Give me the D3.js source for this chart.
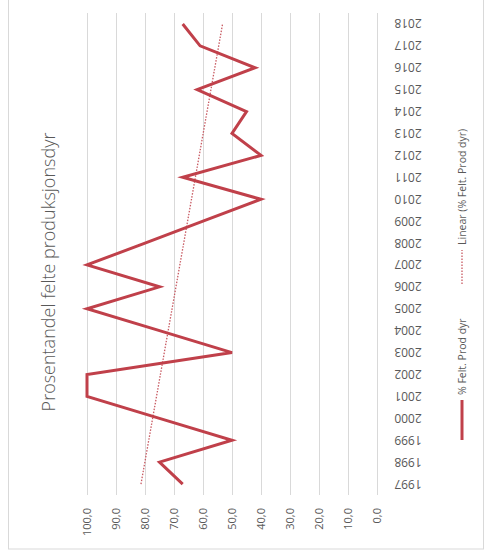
<!DOCTYPE html>
<html>
<head>
<meta charset="utf-8">
<script src="https://cdn.jsdelivr.net/npm/d3@7"></script>
<style>
  html, body { margin: 0; padding: 0; background: #fff; }
  svg { display: block; }
</style>
</head>
<body>
<svg id="chart" width="494" height="558"></svg>
<script>
const years = ["1997","1998","1999","2000","2001","2002","2003","2004","2005","2006","2007",
               "2008","2009","2010","2011","2012","2013","2014","2015","2016","2017","2018"];
const values = [67, 75, 50, 75, 100, 100, 50, 75, 100, 75, 100,
                80, 60, 40, 67, 40, 50, 45, 62, 42, 61, 67];
const valueTicks = [100, 90, 80, 70, 60, 50, 40, 30, 20, 10, 0];
const titleText = "Prosentandel felte produksjonsdyr";
const seriesName = "% Felt. Prod dyr";
const trendName = "Linear (% Felt. Prod dyr)";

const svg = d3.select("#chart");
const lineColor = "#c0404a";
const gridColor = "#d9d9d9";
const textColor = "#595959";

// frame
svg.append("rect").attr("x", 8.5).attr("y", -1).attr("width", 475).attr("height", 550)
  .attr("fill", "#fff").attr("stroke", gridColor).attr("stroke-width", 1);

// scales (chart is rotated: values horizontal reversed, years vertical from bottom)
const x = d3.scaleLinear().domain([0, 100]).range([377, 87]);
const y = d3.scaleBand().domain(years).range([495, 13]);
const yc = d => y(d) + y.bandwidth() / 2;

// gridlines
svg.append("g").selectAll("line").data(valueTicks).join("line")
  .attr("x1", d => x(d) + 0.5).attr("x2", d => x(d) + 0.5)
  .attr("y1", 13).attr("y2", 495)
  .attr("stroke", gridColor).attr("stroke-width", 1);

// value tick labels (rotated -90)
svg.append("g").selectAll("text").data(valueTicks).join("text")
  .attr("transform", d => `translate(${x(d) + 4},508) rotate(-90)`)
  .attr("text-anchor", "end")
  .attr("font-family", "Open Sans, sans-serif").attr("font-size", 11)
  .attr("fill", textColor)
  .text(d => d3.format(".1f")(d).replace(".", ","));

// year labels (upside down)
svg.append("g").selectAll("text").data(years).join("text")
  .attr("transform", d => `translate(408,${yc(d)}) rotate(180)`)
  .attr("text-anchor", "middle").attr("dominant-baseline", "central")
  .attr("font-family", "Open Sans, sans-serif").attr("font-size", 12)
  .attr("fill", textColor)
  .text(d => d);

// trendline (least squares)
const n = values.length;
const idx = d3.range(n);
const mx = d3.mean(idx), my = d3.mean(values);
const slope = d3.sum(idx, i => (i - mx) * (values[i] - my)) / d3.sum(idx, i => (i - mx) * (i - mx));
const icpt = my - slope * mx;
const trend = [0, n - 1].map(i => ({ year: years[i], v: icpt + slope * i }));

svg.append("path").datum(trend)
  .attr("d", d3.line().x(d => x(d.v)).y(d => yc(d.year)))
  .attr("fill", "none").attr("stroke", "#c85a62").attr("stroke-width", 1.3)
  .attr("stroke-dasharray", "1.5,1.5");

// main line
svg.append("path").datum(years.map((yr, i) => ({ year: yr, v: values[i] })))
  .attr("d", d3.line().x(d => x(d.v)).y(d => yc(d.year)))
  .attr("fill", "none").attr("stroke", lineColor).attr("stroke-width", 3)
  .attr("stroke-linejoin", "miter").attr("stroke-linecap", "butt");

// title
svg.append("text")
  .attr("transform", "translate(55,272) rotate(-90)")
  .attr("text-anchor", "middle")
  .attr("font-family", "Open Sans, sans-serif").attr("font-weight", 300).attr("font-size", 18)
  .attr("fill", textColor)
  .text(titleText);

// legend
const lg = svg.append("g");
lg.append("line").attr("x1", 462).attr("x2", 462).attr("y1", 440).attr("y2", 400)
  .attr("stroke", lineColor).attr("stroke-width", 3);
lg.append("text").attr("transform", "translate(466,395) rotate(-90)")
  .attr("text-anchor", "start")
  .attr("font-family", "Open Sans, sans-serif").attr("font-size", 10.5)
  .attr("fill", textColor).text(seriesName);
lg.append("line").attr("x1", 462).attr("x2", 462).attr("y1", 284).attr("y2", 250)
  .attr("stroke", "#c85a62").attr("stroke-width", 1.3).attr("stroke-dasharray", "1.5,1.5");
lg.append("text").attr("transform", "translate(466,245) rotate(-90)")
  .attr("text-anchor", "start")
  .attr("font-family", "Open Sans, sans-serif").attr("font-size", 10.5)
  .attr("fill", textColor).text(trendName);
</script>
</body>
</html>
